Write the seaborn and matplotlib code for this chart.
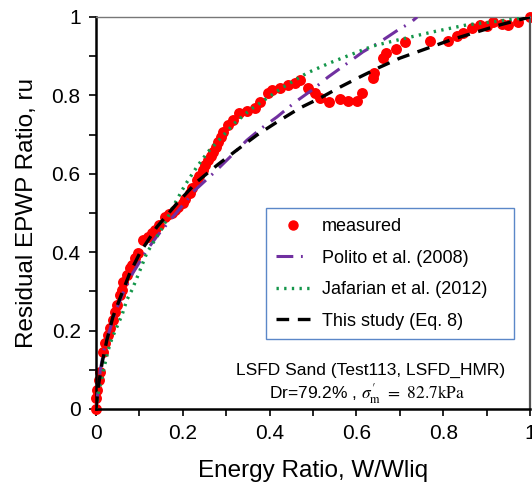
import numpy as np
import pandas as pd
import seaborn as sns
import matplotlib
matplotlib.use("Agg")
import matplotlib.pyplot as plt
from matplotlib.ticker import MultipleLocator, FixedLocator
from matplotlib.lines import Line2D

# measured data
meas_x = [0, 0, 0.002, 0.007, 0.009, 0.016, 0.021, 0.028, 0.032, 0.039, 0.044, 0.048,
          0.055, 0.06, 0.062, 0.071, 0.078, 0.083, 0.09, 0.097, 0.108, 0.12, 0.128,
          0.136, 0.145, 0.159, 0.168, 0.175, 0.182, 0.19, 0.2, 0.205, 0.217, 0.222,
          0.232, 0.238, 0.247, 0.252, 0.258, 0.264, 0.27, 0.276, 0.281, 0.287, 0.293,
          0.304, 0.316, 0.33, 0.348, 0.366, 0.378, 0.396, 0.405, 0.424, 0.442, 0.459,
          0.47, 0.488, 0.505, 0.516, 0.537, 0.562, 0.581, 0.601, 0.613, 0.638, 0.641,
          0.661, 0.668, 0.691, 0.712, 0.77, 0.811, 0.832, 0.846, 0.866, 0.885, 0.9,
          0.914, 0.935, 0.949, 0.972, 1.0]
meas_y = [0, 0.028, 0.048, 0.074, 0.094, 0.145, 0.168, 0.189, 0.207, 0.227, 0.247, 0.265,
          0.29, 0.304, 0.324, 0.342, 0.36, 0.367, 0.385, 0.398, 0.431, 0.44, 0.45,
          0.457, 0.47, 0.49, 0.497, 0.5, 0.508, 0.515, 0.525, 0.535, 0.551, 0.565,
          0.584, 0.595, 0.61, 0.622, 0.635, 0.645, 0.656, 0.668, 0.681, 0.694, 0.707,
          0.724, 0.737, 0.755, 0.76, 0.768, 0.783, 0.806, 0.814, 0.819, 0.827, 0.832,
          0.839, 0.819, 0.806, 0.793, 0.783, 0.791, 0.786, 0.786, 0.806, 0.844, 0.857,
          0.895, 0.908, 0.918, 0.936, 0.939, 0.939, 0.952, 0.959, 0.972, 0.98, 0.977,
          0.987, 0.982, 0.98, 0.987, 1.0]

# Polito et al. (2008)
pol_x = [0, 0.01, 0.02, 0.044, 0.06, 0.071, 0.085, 0.117, 0.14, 0.177, 0.21, 0.224,
         0.274, 0.309, 0.348, 0.382, 0.417, 0.459, 0.498, 0.535, 0.574, 0.615, 0.654,
         0.696, 0.724, 0.74]
pol_y = [0, 0.1, 0.16, 0.245, 0.29, 0.315, 0.347, 0.405, 0.44, 0.49, 0.533, 0.554,
         0.605, 0.643, 0.686, 0.717, 0.745, 0.783, 0.814, 0.847, 0.878, 0.911, 0.936,
         0.967, 0.985, 1.0]

# Jafarian et al. (2012)
jaf_x = [0, 0.006, 0.014, 0.021, 0.028, 0.037, 0.048, 0.06, 0.071, 0.083, 0.1, 0.117,
         0.154, 0.177, 0.205, 0.232, 0.258, 0.29, 0.32, 0.355, 0.394, 0.431, 0.46,
         0.486, 0.539, 0.585, 0.638, 0.694, 0.776, 0.855, 0.931, 1.0]
jaf_y = [0, 0.045, 0.082, 0.117, 0.15, 0.181, 0.209, 0.24, 0.278, 0.304, 0.35, 0.398,
         0.464, 0.515, 0.571, 0.617, 0.656, 0.694, 0.73, 0.763, 0.793, 0.821, 0.84,
         0.857, 0.883, 0.903, 0.926, 0.941, 0.962, 0.98, 0.99, 1.0]

# This study (Eq. 8)
eq8_x = [0, 0.005, 0.014, 0.025, 0.039, 0.06, 0.078, 0.101, 0.124, 0.14, 0.187, 0.232,
         0.279, 0.325, 0.371, 0.417, 0.47, 0.516, 0.562, 0.608, 0.654, 0.7, 0.816,
         0.931, 1.0]
eq8_y = [0, 0.056, 0.117, 0.176, 0.235, 0.296, 0.347, 0.398, 0.437, 0.464, 0.525, 0.579,
         0.622, 0.661, 0.699, 0.732, 0.768, 0.793, 0.821, 0.847, 0.872, 0.895, 0.941,
         0.98, 1.0]

x_ticks = [0, 0.2, 0.4, 0.6, 0.8, 1]
y_ticks = [0, 0.2, 0.4, 0.6, 0.8, 1]
x_tick_labels = ["0", "0.2", "0.4", "0.6", "0.8", "1"]
y_tick_labels = ["0", "0.2", "0.4", "0.6", "0.8", "1"]

sns.set_style("white")
plt.rcParams['font.family'] = ['Liberation Sans', 'DejaVu Sans']
plt.rcParams['mathtext.fontset'] = 'stix'
for k in ["text.color", "axes.labelcolor", "xtick.color", "ytick.color"]:
    plt.rcParams[k] = "black"

fig = plt.figure(figsize=(5.32, 4.93), dpi=100)
ax = fig.add_axes([96/532, 1 - 409/493, 434/532, 392/493])

red = "#FF0000"
purple = "#7030A0"
green = "#14964A"
pol_ls = (0, (5.5, 2.5, 0.6, 2.8))
jaf_ls = (0, (0.7, 1.6))
eq8_ls = (0, (3.8, 2.6))

df_p = pd.DataFrame({"x": pol_x, "y": pol_y})
df_j = pd.DataFrame({"x": jaf_x, "y": jaf_y})
df_e = pd.DataFrame({"x": eq8_x, "y": eq8_y})
df_m = pd.DataFrame({"x": meas_x, "y": meas_y})

sns.lineplot(data=df_p, x="x", y="y", ax=ax, sort=False, estimator=None, color=purple,
             lw=2.2, linestyle=pol_ls, zorder=3)
sns.lineplot(data=df_j, x="x", y="y", ax=ax, sort=False, estimator=None, color=green,
             lw=2.4, linestyle=jaf_ls, zorder=3)
sns.scatterplot(data=df_m, x="x", y="y", ax=ax, color=red, s=62, edgecolor=red,
                linewidth=0, zorder=2, clip_on=False)
sns.lineplot(data=df_e, x="x", y="y", ax=ax, sort=False, estimator=None, color="black",
             lw=2.4, linestyle=eq8_ls, zorder=4)

ax.set_xlim(0, 1)
ax.set_ylim(0, 1)
ax.xaxis.set_major_locator(FixedLocator(x_ticks))
ax.yaxis.set_major_locator(FixedLocator(y_ticks))
ax.set_xticklabels(x_tick_labels)
ax.set_yticklabels(y_tick_labels)
ax.xaxis.set_minor_locator(MultipleLocator(0.1))
ax.yaxis.set_minor_locator(MultipleLocator(0.1))
ax.tick_params(which="both", direction="out", length=5, width=1.2, color="black",
               bottom=True, left=True, top=False, right=False)
ax.tick_params(axis="both", which="major", labelsize=15, pad=6)

for s in ["left", "bottom"]:
    ax.spines[s].set_color("black")
    ax.spines[s].set_linewidth(1.8)
ax.spines["right"].set_color("#555555")
ax.spines["right"].set_linewidth(1.6)
ax.spines["top"].set_color("#777777")
ax.spines["top"].set_linewidth(1.0)

ax.set_xlabel("Energy Ratio, W/Wliq", fontsize=17.5, labelpad=12)
ax.set_ylabel("Residual EPWP Ratio, ru", fontsize=17.5, labelpad=10)

handles = [
    Line2D([], [], marker="o", color=red, linestyle="none", markersize=6.5),
    Line2D([], [], color=purple, lw=2.2, linestyle=pol_ls),
    Line2D([], [], color=green, lw=2.4, linestyle=jaf_ls),
    Line2D([], [], color="black", lw=2.4, linestyle=eq8_ls),
]
labels = ["measured", "Polito et al. (2008)", "Jafarian et al. (2012)", "This study (Eq. 8)"]
leg = ax.legend(handles, labels, loc="upper left", bbox_to_anchor=(0.392, 0.184, 0.571, 0.328),
                mode="expand", fontsize=13, frameon=True, fancybox=False, handlelength=1.9,
                handletextpad=0.65, labelspacing=0.8, borderpad=0.55, borderaxespad=0)
leg.get_frame().set_edgecolor("#5B87C8")
leg.get_frame().set_linewidth(1.0)
leg.get_frame().set_facecolor("white")
leg.get_frame().set_alpha(1)

ax.text(0.633, 0.098, "LSFD Sand (Test113, LSFD_HMR)", transform=ax.transAxes,
        ha="center", va="center", fontsize=12.5)
ax.text(0.625, 0.040, r"Dr=79.2% , $\sigma_{\rm m}^{\prime}$ $=$ $82.7{\rm kPa}$",
        transform=ax.transAxes, ha="center", va="center", fontsize=12.5)

fig.savefig("out.png", dpi=100)
